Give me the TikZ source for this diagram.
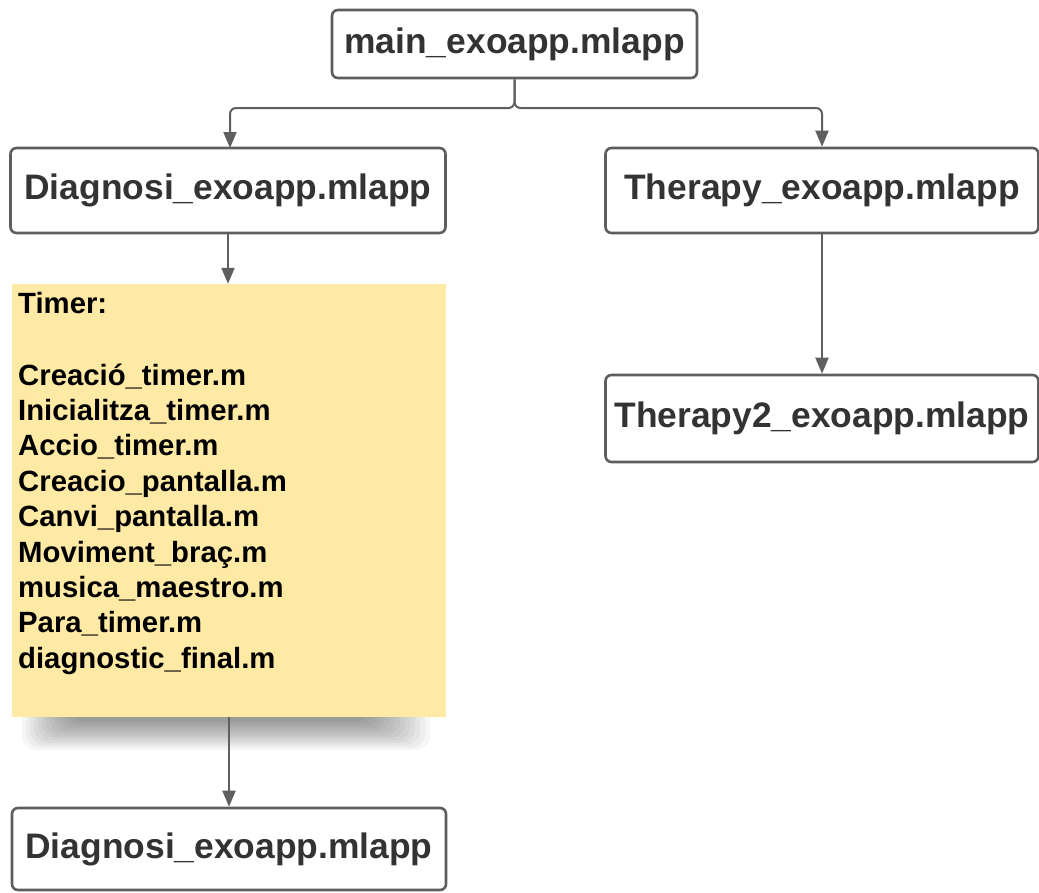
\documentclass[tikz,border=0pt]{standalone}
\usepackage{fontspec}
\setmainfont{Liberation Sans}
\usetikzlibrary{arrows.meta}
\definecolor{boxline}{HTML}{5E5E5E}
\definecolor{arrowcol}{HTML}{5F5F5F}
\definecolor{txtcol}{HTML}{333333}
\definecolor{notefill}{HTML}{FFEAA5}
\tikzset{
  filebox/.style={draw=boxline, line width=2.6pt, rounded corners=6pt, fill=white,
    text=txtcol, font=\bfseries\fontsize{35.4}{41}\selectfont, inner sep=0pt},
  conn/.style={draw=arrowcol, line width=2pt, -{Triangle[length=16pt,width=13pt]}},
  noteline/.style={anchor=base west, inner sep=0pt, text=black,
    font=\bfseries\fontsize{29.3}{35}\selectfont},
  shadowlayer/.style={fill=black, opacity=0.035, rounded corners=14pt},
}
\begin{document}
\begin{tikzpicture}[x=1pt,y=-1pt]
\useasboundingbox[fill=white] (0,0) rectangle (1039,892);
% boxes
\node[filebox, minimum width=365pt, minimum height=68pt] (main) at (514.5,44) {main\_exoapp.mlapp};
\node[filebox, minimum width=435pt, minimum height=85pt] (diag) at (228,190.5) {Diagnosi\_exoapp.mlapp};
\node[filebox, minimum width=433pt, minimum height=85pt] (ther) at (822,190.5) {Therapy\_exoapp.mlapp};
\node[filebox, minimum width=433pt, minimum height=87pt] (ther2) at (822,418.5) {Therapy2\_exoapp.mlapp};
\node[filebox, minimum width=434pt, minimum height=82pt] (diag2) at (229,849) {Diagnosi\_exoapp.mlapp};
% soft shadow under the note
\foreach \k in {0,...,12}
  \path[shadowlayer] ({22+4*\k},690) rectangle ({430-5*\k},{750-2.4*\k});
% note
\node[fill=notefill, minimum width=434pt, minimum height=433pt, inner sep=0pt] (note) at (229,500.5) {};
\node[noteline] (l0) at (18,313) {Timer:};
\foreach \t [count=\i] in {Creació\_timer.m, Inicialitza\_timer.m, Accio\_timer.m,
  Creacio\_pantalla.m, Canvi\_pantalla.m, Moviment\_braç.m, musica\_maestro.m,
  Para\_timer.m, diagnostic\_final.m}
  \node[noteline] (l\i) at (18,{385+(\i-1)*35.4}) {\t};
% connectors
\draw[conn, rounded corners=6pt] (main.south) |- (230,108) -- (230,148);
\draw[conn, rounded corners=6pt] (main.south) |- (822,108) -- (ther.north);
\draw[conn] (228,233) -- (note.north -| 228,233);
\draw[conn] (note.south) -- (diag2.north);
\draw[conn] (ther.south) -- (ther2.north);
\end{tikzpicture}
\end{document}
